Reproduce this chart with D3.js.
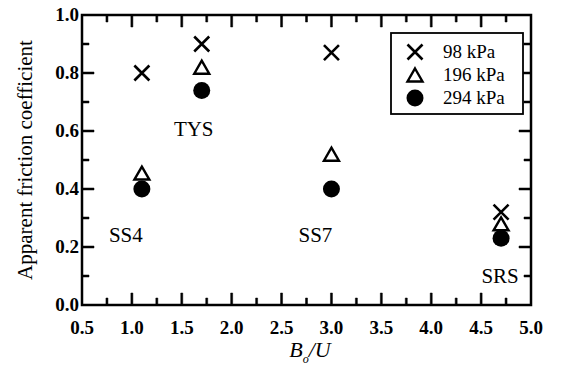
<!DOCTYPE html>
<html>
<head>
<meta charset="utf-8">
<script src="https://cdn.jsdelivr.net/npm/d3@7"></script>
</head>
<body style="margin:0;background:#fff">
<script>
// samples and their B/U position
var samples = ["SS4", "TYS", "SS7", "SRS"];
var ratio = [1.1, 1.7, 3.0, 4.7];
// apparent friction coefficient per normal stress
var mu98 = [0.80, 0.90, 0.87, 0.32];
var mu196 = [0.455, 0.82, 0.52, 0.28];
var mu294 = [0.40, 0.74, 0.40, 0.23];
var seriesNames = ["98 kPa", "196 kPa", "294 kPa"];
var xTicks = [0.5, 1.0, 1.5, 2.0, 2.5, 3.0, 3.5, 4.0, 4.5, 5.0];
var xMinor = [0.75, 1.25, 1.75, 2.25, 2.75, 3.25, 3.75, 4.25, 4.75];
var yTicks = [0.0, 0.2, 0.4, 0.6, 0.8, 1.0];
var yMinor = [0.1, 0.3, 0.5, 0.7, 0.9];

var W = 562, H = 368;
var MARGIN = { LEFT: 82, RIGHT: 31, TOP: 15, BOTTOM: 63 };
var FONT = "Liberation Serif";

var svg = d3.select("body").append("svg")
	.attr("width", W).attr("height", H);

var x = d3.scaleLinear().domain([0.5, 5.0]).range([MARGIN.LEFT, W - MARGIN.RIGHT]);
var y = d3.scaleLinear().domain([0, 1]).range([H - MARGIN.BOTTOM, MARGIN.TOP]);

var x0 = x.range()[0], x1 = x.range()[1], y0 = y.range()[0], y1 = y.range()[1];

// plot frame, drawn like the legend box (white fill, black border)
svg.append("rect")
	.attr("x", x0).attr("y", y1)
	.attr("width", x1 - x0).attr("height", y0 - y1)
	.attr("fill", "#fff").attr("stroke", "#000").attr("stroke-width", 2.5);

// inward ticks as small closed shapes (half width tw)
var tw = 1;
function tickShape(ax, ay, bx, by) {
	// thin quad from (ax,ay) to (bx,by)
	var dx = ax === bx ? tw : 0, dy = ay === by ? tw : 0;
	return "M" + (ax - dx) + "," + (ay - dy) + "L" + (bx - dx) + "," + (by - dy) +
		"L" + (bx + dx) + "," + (by + dy) + "L" + (ax + dx) + "," + (ay + dy) + "Z";
}
var tk = svg.append("g");
function hTicks(vals, len) {
	vals.forEach(function (v) {
		tk.append("path").attr("d", tickShape(x(v), y0, x(v), y0 - len))
			.attr("fill", "#000").attr("stroke", "#000").attr("stroke-width", 0.5);
		tk.append("path").attr("d", tickShape(x(v), y1, x(v), y1 + len))
			.attr("fill", "#000").attr("stroke", "#000").attr("stroke-width", 0.5);
	});
}
function vTicks(vals, len) {
	vals.forEach(function (v) {
		tk.append("path").attr("d", tickShape(x0, y(v), x0 + len, y(v)))
			.attr("fill", "#000").attr("stroke", "#000").attr("stroke-width", 0.5);
		tk.append("path").attr("d", tickShape(x1, y(v), x1 - len, y(v)))
			.attr("fill", "#000").attr("stroke", "#000").attr("stroke-width", 0.5);
	});
}
hTicks(xTicks.slice(1, -1), 12); hTicks(xMinor, 7);
vTicks(yTicks.slice(1, -1), 12); vTicks(yMinor, 7);

// tick labels
svg.append("g").selectAll("text").data(xTicks).enter().append("text")
	.attr("x", function (d) { return x(d); })
	.attr("y", y0 + 29)
	.attr("text-anchor", "middle")
	.attr("font-family", FONT)
	.attr("font-size", 19)
	.attr("font-weight", "bold")
	.text(function (d) { return d.toFixed(1); });

svg.append("g").selectAll("text").data(yTicks).enter().append("text")
	.attr("x", x0 - 3)
	.attr("y", function (d) { return y(d) + 6; })
	.attr("text-anchor", "end")
	.attr("font-family", FONT)
	.attr("font-size", 19)
	.attr("font-weight", "bold")
	.text(function (d) { return d.toFixed(1); });

// axis titles
svg.append("text")
	.attr("transform", "translate(32," + ((y0 + y1) / 2) + ") rotate(-90)")
	.attr("text-anchor", "middle")
	.attr("font-family", FONT)
	.attr("font-size", 21)
	.text("Apparent friction coefficient");

var xt = svg.append("text")
	.attr("x", 310)
	.attr("y", 357)
	.attr("text-anchor", "middle")
	.attr("font-family", FONT)
	.attr("font-size", 22)
	.attr("font-style", "italic");
xt.append("tspan").text("B");
xt.append("tspan").attr("font-size", 12).attr("dy", 6).text("o");
xt.append("tspan").attr("dy", -6).text("/U");

// markers
function cross(g, cx, cy) {
	var s = 7.5;
	g.append("path")
		.attr("d", "M" + (cx - s) + "," + (cy - s) + "L" + (cx + s) + "," + (cy + s) +
			"M" + (cx - s) + "," + (cy + s) + "L" + (cx + s) + "," + (cy - s))
		.attr("stroke", "#000").attr("stroke-width", 2.6).attr("fill", "none");
}
function tri(g, cx, cy) {
	var w = 7.5, h = 6.5;
	g.append("path")
		.attr("d", "M" + cx + "," + (cy - h) + "L" + (cx + w) + "," + (cy + h) + "L" + (cx - w) + "," + (cy + h) + "Z")
		.attr("stroke", "#000").attr("stroke-width", 2.4).attr("fill", "#fff");
}
function dot(g, cx, cy) {
	g.append("circle").attr("cx", cx).attr("cy", cy).attr("r", 8.5).attr("fill", "#000");
}

var marks = svg.append("g");
ratio.forEach(function (r, i) { cross(marks, x(r), y(mu98[i])); });
ratio.forEach(function (r, i) { dot(marks, x(r), y(mu294[i])); });
ratio.forEach(function (r, i) { tri(marks, x(r), y(mu196[i])); });

// sample labels
var labelOffset = [[-16, 47], [-8, 40], [-16, 47], [-1, 39]];
svg.append("g").selectAll("text").data(samples).enter().append("text")
	.attr("x", function (d, i) { return x(ratio[i]) + labelOffset[i][0]; })
	.attr("y", function (d, i) { return y(mu294[i]) + labelOffset[i][1] + 6; })
	.attr("text-anchor", "middle")
	.attr("font-family", FONT)
	.attr("font-size", 21)
	.text(function (d) { return d; });

// legend
var lg = svg.append("g");
lg.append("rect").attr("x", 391).attr("y", 33).attr("width", 132).attr("height", 81)
	.attr("fill", "#fff").attr("stroke", "#000").attr("stroke-width", 1.8);
var markerFns = [cross, tri, dot];
seriesNames.forEach(function (n, i) {
	var ly = 52 + i * 23;
	markerFns[i](lg, 415, ly);
	lg.append("text").attr("x", 443).attr("y", ly + 6)
		.attr("font-family", FONT)
		.attr("font-size", 19).text(n);
});
</script>
</body>
</html>
